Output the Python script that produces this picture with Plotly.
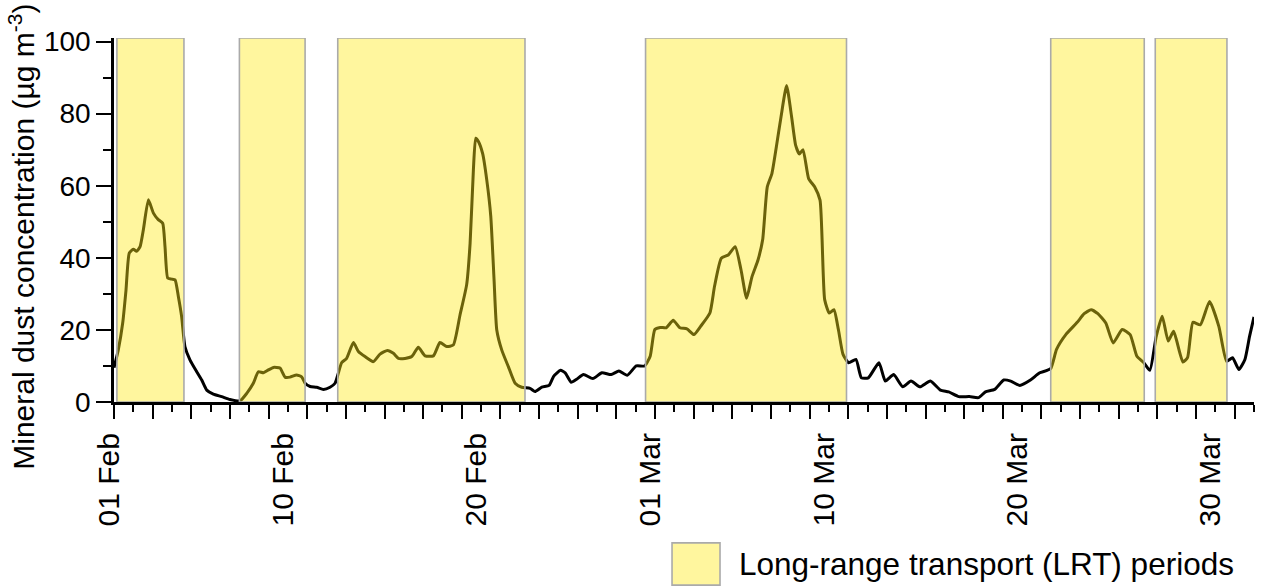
import pandas as pd
import plotly.graph_objects as go

# ---------------- data ----------------
START = pd.Timestamp("2018-02-01")
END = pd.Timestamp("2018-04-01")

# time (days since 01 Feb 00:00) and mineral dust concentration (ug m-3)
day_offset = [0.00, 0.22, 0.45, 0.62, 0.79, 1.00, 1.17, 1.35, 1.52, 1.78, 2.04, 2.29, 2.52, 2.64,
              2.78, 2.98, 3.16, 3.33, 3.50, 3.67, 3.93, 4.28, 4.54, 4.80, 5.14, 5.57, 6.00, 6.52,
              6.87, 7.21, 7.47, 7.73, 7.99, 8.25, 8.59, 8.85, 9.11, 9.45, 9.71, 9.89, 10.15, 10.49,
              10.84, 11.18, 11.44, 11.61, 11.78, 12.04, 12.39, 12.65, 12.99, 13.42, 13.77, 14.15,
              14.46, 14.72, 15.06, 15.41, 15.75, 16.10, 16.53, 16.87, 17.22, 17.56, 17.91, 18.25,
              18.43, 18.60, 18.72, 18.86, 19.08, 19.29, 19.50, 19.67, 19.81, 20.07, 20.41, 20.76,
              21.10, 21.53, 21.79, 22.14, 22.52, 22.76, 23.11, 23.35, 23.66, 23.94, 24.30, 24.78,
              25.25, 25.73, 26.13, 26.56, 27.03, 27.46, 27.75, 27.99, 28.27, 28.58, 28.94, 29.29,
              29.65, 30.01, 30.36, 30.84, 31.08, 31.43, 31.79, 32.15, 32.45, 32.74, 33.02, 33.33,
              33.57, 33.81, 34.05, 34.28, 34.52, 34.81, 35.07, 35.28, 35.47, 35.66, 35.95, 36.26,
              36.54, 36.78, 37.02, 37.26, 37.49, 37.73, 38.02, 38.40, 38.68, 39.04, 39.59, 39.92,
              40.35, 40.82, 41.25, 41.72, 42.25, 42.77, 43.20, 43.72, 44.27, 44.74, 45.10, 45.58,
              46.05, 46.41, 46.88, 47.43, 47.91, 48.47, 48.78, 49.26, 49.85, 50.21, 50.57, 50.92,
              51.33, 51.71, 52.18, 52.59, 52.94, 53.30, 53.61, 53.94, 54.25, 54.56, 54.84, 55.32,
              55.56, 55.84, 56.22, 56.70, 57.18, 57.58, 57.89, 58.22, 58.53, 58.77, 59.00]
dust = [9.5, 14.4, 21.9, 31.0, 41.3, 42.4, 41.8, 43.1, 47.8, 56.1, 52.4, 50.6, 49.6, 43.1,
        34.4, 34.1, 33.9, 29.3, 23.7, 15.4, 11.7, 8.4, 6.1, 3.3, 2.2, 1.5, 0.7, 0.3,
        2.4, 5.2, 8.4, 8.1, 8.9, 9.6, 9.4, 6.9, 6.9, 7.5, 7.0, 5.2, 4.3, 4.1,
        3.5, 4.1, 5.2, 8.0, 10.9, 12.1, 16.5, 14.0, 12.6, 11.2, 13.3, 14.3,
        13.5, 12.1, 12.1, 12.6, 15.2, 12.8, 12.8, 16.5, 15.4, 15.8, 24.2, 32.5,
        44.1, 64.4, 73.2, 72.3, 68.9, 61.7, 51.5, 33.9, 20.0, 14.4, 9.8, 5.2,
        4.1, 3.8, 2.9, 4.1, 4.6, 7.2, 8.8, 8.1, 5.5, 6.3, 7.6, 6.5,
        8.1, 7.6, 8.6, 7.4, 10.0, 10.0, 12.7, 20.1, 20.7, 20.6, 22.7, 20.6,
        20.3, 18.7, 21.0, 24.7, 32.1, 39.9, 40.8, 43.1, 36.7, 28.8, 34.8, 39.4,
        45.0, 59.7, 63.4, 70.8, 79.1, 87.8, 79.1, 71.2, 68.8, 70.0, 62.0, 59.7,
        56.0, 28.4, 24.7, 25.6, 20.1, 13.2, 10.9, 11.8, 6.7, 6.7, 10.9, 5.8,
        7.6, 4.2, 5.8, 4.2, 5.8, 3.3, 2.8, 1.5, 1.5, 1.2, 2.8, 3.5,
        6.1, 5.8, 4.6, 6.1, 8.1, 9.2, 14.6, 18.7, 22.1, 24.5, 25.6, 24.5,
        21.9, 16.4, 20.1, 18.7, 12.7, 10.9, 8.8, 18.2, 23.8, 16.9, 19.6, 11.1,
        12.3, 22.1, 21.4, 27.9, 21.0, 11.3, 12.3, 9.0, 11.8, 18.2, 23.6]

# long-range transport periods (days since 01 Feb 00:00)
lrt_start = [0.15, 6.49, 11.58, 27.51, 48.48, 53.89]
lrt_end = [3.62, 9.89, 21.27, 37.91, 53.32, 57.60]

tick_dates = ["2018-02-01", "2018-02-10", "2018-02-20", "2018-03-01",
              "2018-03-10", "2018-03-20", "2018-03-30"]
tick_labels = ["01 Feb", "10 Feb", "20 Feb", "01 Mar", "10 Mar", "20 Mar", "30 Mar"]
y_ticks = [0, 20, 40, 60, 80, 100]

legend_label = "Long-range transport (LRT) periods"
y_title = "Mineral dust concentration (µg m<sup>-3</sup>)"

# ---------------- figure ----------------
FONT = "Liberation Sans, Arial, sans-serif"
FILL = "rgba(255,234,24,0.42)"
LEGEND_FILL = "rgb(255,246,158)"
EDGE = "rgb(170,170,170)"

times = START + pd.to_timedelta(day_offset, unit="D")

fig = go.Figure()
fig.add_trace(go.Scatter(x=times, y=dust, mode="lines",
                         line=dict(color="black", width=3, shape="spline", smoothing=0.5),
                         showlegend=False, hoverinfo="x+y"))
# helper trace so the label axis exists
fig.add_trace(go.Scatter(x=tick_dates, y=[None] * len(tick_dates), xaxis="x2",
                         mode="lines", showlegend=False, hoverinfo="skip"))

for s, e in zip(lrt_start, lrt_end):
    fig.add_shape(type="rect", xref="x", yref="y",
                  x0=START + pd.Timedelta(days=s), x1=START + pd.Timedelta(days=e),
                  y0=0, y1=101, fillcolor=FILL, line=dict(color=EDGE, width=1.6),
                  layer="above")

# legend key
fig.add_shape(type="rect", xref="paper", yref="paper",
              x0=0.4895, x1=0.5316, y0=-0.503, y1=-0.387,
              fillcolor=LEGEND_FILL, line=dict(color=EDGE, width=1.6))
fig.add_annotation(xref="paper", yref="paper", x=0.5465, y=-0.445,
                   xanchor="left", yanchor="middle", showarrow=False,
                   text=legend_label, font=dict(family=FONT, size=31.5, color="black"))

# y-axis title
fig.add_annotation(xref="paper", yref="paper", x=-0.081, y=0.453,
                   xanchor="center", yanchor="middle", showarrow=False, textangle=-90,
                   text=y_title, font=dict(family=FONT, size=30, color="black"))

fig.update_layout(
    width=1261, height=587,
    margin=dict(l=114, r=7, t=38, b=185),
    paper_bgcolor="white", plot_bgcolor="white",
    font=dict(family=FONT, color="black"),
    xaxis=dict(type="date", range=[START, END], showgrid=False, zeroline=False,
               showline=True, linecolor="black", linewidth=2.6,
               tickmode="linear", tick0=START, dtick=2 * 86400000,
               ticks="outside", ticklen=14, tickwidth=2.4, tickcolor="black",
               showticklabels=False,
               minor=dict(ticks="outside", dtick=86400000, tick0=START,
                          ticklen=7, tickwidth=2.4, tickcolor="black", showgrid=False)),
    xaxis2=dict(type="date", overlaying="x", matches="x", anchor="y", side="bottom",
                range=[START, END], showgrid=False, zeroline=False, showline=False,
                tickmode="array", tickvals=tick_dates, ticktext=tick_labels,
                tickangle=-90, ticks="outside", ticklen=18, tickcolor="rgba(0,0,0,0)",
                ticklabelshift=-5,
                tickfont=dict(family=FONT, size=30, color="black")),
    yaxis=dict(range=[0, 101], showgrid=False, zeroline=False,
               showline=True, linecolor="black", linewidth=2.6,
               tickmode="array", tickvals=y_ticks,
               ticks="outside", ticklen=15, tickwidth=2.4, tickcolor="black",
               tickfont=dict(family=FONT, size=28, color="black"),
               minor=dict(ticks="outside", dtick=10, ticklen=8, tickwidth=2.4,
                          tickcolor="black", showgrid=False)),
)

fig.write_html("out.html")
